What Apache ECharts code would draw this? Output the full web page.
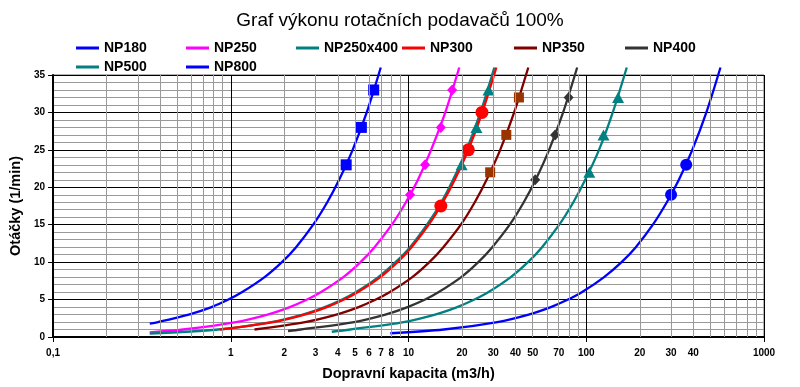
<!DOCTYPE html>
<html>
<head>
<meta charset="utf-8">
<script src="https://cdn.jsdelivr.net/npm/echarts@6/dist/echarts.min.js"></script>
<style>
html,body{margin:0;padding:0;background:#fff;}
#chart{width:800px;height:387px;}
</style>
</head>
<body>
<div id="chart"></div>
<script>
// ---- data: [capacity m3/h, speed 1/min] ----
const np180 = [[0.35,1.8],[0.39,2],[0.58,3],[0.78,4],[0.97,5],[1.16,6],[1.55,8],[1.94,10],[2.33,12],[2.91,15],[3.49,18],[4.07,21],[4.85,25],[5.82,30],[6.98,36]];
const np250 = [[0.35,0.62],[0.54,1],[1.07,2],[1.61,3],[2.15,4],[2.69,5],[3.22,6],[4.30,8],[5.37,10],[6.44,12],[8.06,15],[9.67,18],[11.3,21],[13.4,25],[16.1,30],[19.3,36]];
const np250x400 = [[0.35,0.45],[0.85,1],[1.69,2],[2.54,3],[3.38,4],[4.23,5],[5.07,6],[6.76,8],[8.45,10],[10.2,12],[12.7,15],[15.3,18],[17.8,21],[21.2,25],[25.4,30],[30.4,36]];
const np300 = [[0.87,1],[1.73,2],[2.6,3],[3.47,4],[4.34,5],[5.2,6],[6.94,8],[8.67,10],[10.4,12],[13.0,15],[15.6,18],[18.2,21],[21.7,25],[26.0,30],[31.2,36]];
const np350 = [[1.36,1],[2.62,2],[3.93,3],[5.24,4],[6.55,5],[7.86,6],[10.5,8],[13.1,10],[15.7,12],[19.7,15],[23.6,18],[27.5,21],[32.8,25],[39.3,30],[47.2,36]];
const np400 = [[2.1,0.8],[2.47,1],[4.94,2],[7.41,3],[9.88,4],[12.4,5],[14.8,6],[19.8,8],[24.7,10],[29.6,12],[37.1,15],[44.5,18],[51.9,21],[61.8,25],[74.1,30],[88.9,36]];
const np500 = [[3.7,0.7],[4.7,1],[9.4,2],[14.1,3],[18.8,4],[23.5,5],[28.2,6],[37.6,8],[47,10],[56.4,12],[70.5,15],[84.6,18],[98.7,21],[118,25],[141,30],[169,36]];
const np800 = [[7.9,0.5],[15.8,1],[31.6,2],[47.4,3],[63.2,4],[79,5],[94.8,6],[126,8],[158,10],[190,12],[237,15],[284,18],[332,21],[395,25],[474,30],[569,36]];

// markers
const np180Pts = [[4.46,23],[5.43,28],[6.37,33]];
const np250Pts = [[10.2,19],[12.4,23],[15.2,28],[17.6,33]];
const np250x400Pts = [[19.9,23],[24.1,28],[28.2,33]];
const np300Pts = [[15.2,17.5],[21.7,25],[25.9,30]];
const np350Pts = [[28.8,22],[35.5,27],[41.8,32]];
const np400Pts = [[51.6,21],[66.8,27],[79.6,32]];
const np500Pts = [[104,22],[125,27],[151,32]];
const np800Pts = [[300,19],[365,23]];

// axis ticks
const xMinorGrid = [0.2,0.3,0.4,0.5,0.6,0.7,0.8,0.9,2,3,4,5,6,7,8,9,20,30,40,50,60,70,80,90,200,300,400,500,600,700,800,900];
const xMinorLabelValues = [2,3,4,5,6,7,8,20,30,40,50,70,200,300,400];
const xMinorLabelTexts = ['2','3','4','5','6','7','8','20','30','40','50','70','20','30','40'];
const xMajorLabels = {0.1:'0,1',1:'1',10:'10',100:'100',1000:'1000'};

const FONT = '"Liberation Sans", Arial, sans-serif';

const models = [
  {name:'NP180', line:np180, pts:np180Pts, color:'#0000FF', mColor:'#0000FF', symbol:'rect', size:11},
  {name:'NP250', line:np250, pts:np250Pts, color:'#FF00FF', mColor:'#FF00FF', symbol:'diamond', size:[10,11]},
  {name:'NP250x400', line:np250x400, pts:np250x400Pts, color:'#008080', mColor:'#008080', symbol:'triangle', size:[12,11]},
  {name:'NP300', line:np300, pts:np300Pts, color:'#FF0000', mColor:'#FF0000', symbol:'circle', size:13},
  {name:'NP350', line:np350, pts:np350Pts, color:'#800000', mColor:'#993300', symbol:'rect', size:10},
  {name:'NP400', line:np400, pts:np400Pts, color:'#333333', mColor:'#333333', symbol:'diamond', size:[10,11]},
  {name:'NP500', line:np500, pts:np500Pts, color:'#008080', mColor:'#008080', symbol:'triangle', size:[12,11]},
  {name:'NP800', line:np800, pts:np800Pts, color:'#0000FF', mColor:'#0000FF', symbol:'circle', size:12}
];
const legendPos = [[76,41],[186,41],[296,41],[402,41],[514,41],[625,41],[76,60],[186,60]];

const labelMap = {};
xMinorLabelValues.forEach((v,i)=>{labelMap[v]=xMinorLabelTexts[i];});

const series = [];
series.push({
  type:'line', name:'_grid', data:[], z:1, silent:true,
  markLine:{
    silent:true, symbol:['none','none'], animation:false,
    lineStyle:{color:'#999999', width:1, type:'solid'},
    label:{show:true, position:'start', distance:11, fontFamily:FONT, fontWeight:'bold', fontSize:10, color:'#000',
      formatter:p=> labelMap[p.value] !== undefined ? labelMap[p.value] : ''},
    emphasis:{disabled:true},
    data: xMinorGrid.map(v=>({xAxis:v}))
  }
});
models.forEach(m=>{
  series.push({
    type:'line', name:m.name, data:m.line, symbol:'none', smooth:0.3, clip:false, z:3,
    lineStyle:{color:m.color, width:2.3}, itemStyle:{color:m.color},
    emphasis:{disabled:true}
  });
});
models.forEach(m=>{
  series.push({
    type:'scatter', name:m.name+' body', data:m.pts, symbol:m.symbol, symbolSize:m.size, z:4,
    itemStyle:{color:m.mColor, opacity:1}, emphasis:{disabled:true}
  });
});

const legends = models.map((m,i)=>({
  data:[m.name], left:legendPos[i][0], top:legendPos[i][1], padding:0,
  icon:'rect', itemWidth:23, itemHeight:3, selectedMode:false,
  itemStyle:{color:m.color, borderWidth:0},
  textStyle:{fontFamily:FONT, fontWeight:'bold', fontSize:14, color:'#000'}
}));

const chart = echarts.init(document.getElementById('chart'), null, {renderer:'canvas'});
chart.setOption({
  animation:false,
  backgroundColor:'#fff',
  title:{text:'Graf výkonu rotačních podavačů 100%', left:'center', top:6,
    textStyle:{fontFamily:FONT, fontWeight:'normal', fontSize:19, color:'#000'}},
  legend:legends,
  grid:{left:50, right:36, top:75, bottom:50, show:true, borderColor:'#666', borderWidth:1},
  xAxis:{
    type:'log', logBase:10, min:0.1, max:1000,
    name:'Dopravní kapacita (m3/h)', nameLocation:'middle', nameGap:29,
    nameTextStyle:{fontFamily:FONT, fontWeight:'bold', fontSize:14.5, color:'#000'},
    axisLine:{show:true, lineStyle:{color:'#000', width:2}},
    axisTick:{show:true, length:5, lineStyle:{color:'#000', width:1}},
    axisLabel:{margin:11, fontFamily:FONT, fontWeight:'bold', fontSize:10, color:'#000',
      formatter:v=> xMajorLabels[v] !== undefined ? xMajorLabels[v] : String(v)},
    splitLine:{show:true, lineStyle:{color:'#000', width:1}}
  },
  yAxis:{
    type:'value', min:0, max:35, interval:5,
    name:'Otáčky (1/min)', nameLocation:'middle', nameGap:20,
    nameTextStyle:{fontFamily:FONT, fontWeight:'bold', fontSize:14.5, color:'#000'},
    axisLine:{show:true, lineStyle:{color:'#000', width:2}},
    axisTick:{show:true, length:5, lineStyle:{color:'#000', width:1}},
    axisLabel:{margin:8, fontFamily:FONT, fontWeight:'bold', fontSize:10, color:'#000'},
    splitLine:{show:true, lineStyle:{color:'#000', width:1}},
    minorTick:{show:false, splitNumber:5},
    minorSplitLine:{show:true, lineStyle:{color:'#999999', width:1}}
  },
  series:series
});
</script>
</body>
</html>
